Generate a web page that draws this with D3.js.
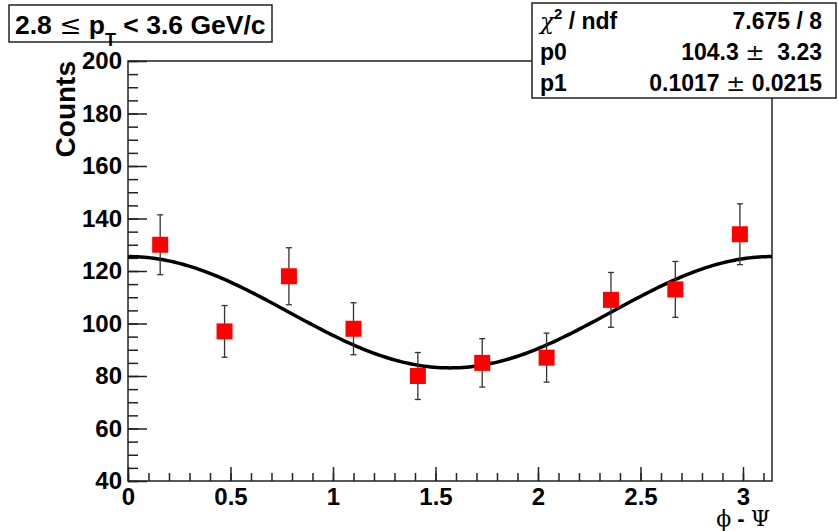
<!DOCTYPE html>
<html>
<head>
<meta charset="utf-8">
<script src="https://cdn.jsdelivr.net/npm/d3@7"></script>
<style>
  body { margin: 0; background: white; }
  text { font-family: "Liberation Sans", Arial, sans-serif; font-weight: bold; }
  .greek { font-family: "DejaVu Serif", "Liberation Serif", serif; font-weight: normal; }
</style>
</head>
<body>
<div id="chart"></div>
<script>
// bin centres of phi - Psi (10 bins over 0..pi) and counts
var binCenters = [0.157, 0.471, 0.785, 1.100, 1.414, 1.728, 2.042, 2.356, 2.670, 2.985];
var counts = [130, 97, 118, 98, 80, 85, 87, 109, 113, 134];
var errors = counts.map(function(c) { return Math.sqrt(c); });

// fit results from the stats box
var fitPars = [104.3, 0.1017];
var statRows = [
  ["χ² / ndf", "7.675 / 8"],
  ["p0", "104.3 ± 3.23"],
  ["p1", "0.1017 ± 0.0215"]
];

var xTicks = [0, 0.5, 1, 1.5, 2, 2.5, 3];
var yTicks = [40, 60, 80, 100, 120, 140, 160, 180, 200];

var W = 838, H = 531;
var mLeft = 128, mRight = 772, mTop = 61, mBottom = 481;

var svg = d3.select("#chart")
  .append("svg")
  .attr("width", W)
  .attr("height", H);

var x = d3.scaleLinear().domain([0, Math.PI]).range([mLeft, mRight]);
var y = d3.scaleLinear().domain([40, 200]).range([mBottom, mTop]);

// frame
svg.append("rect")
  .attr("x", mLeft).attr("y", mTop)
  .attr("width", mRight - mLeft).attr("height", mBottom - mTop)
  .attr("fill", "none").attr("stroke", "#222").attr("stroke-width", 1.5);

// minor ticks
var yMinor = d3.range(40, 200.1, 5);
svg.append("g")
  .attr("transform", "translate(" + mLeft + ",0)")
  .call(d3.axisLeft(y).tickValues(yMinor).tickSize(-10).tickFormat(""))
  .call(function(g) { g.select(".domain").remove(); });

var xMinor = d3.range(0, 3.15, 0.1);
svg.append("g")
  .attr("transform", "translate(0," + mBottom + ")")
  .call(d3.axisBottom(x).tickValues(xMinor).tickSize(-8).tickFormat(""))
  .call(function(g) { g.select(".domain").remove(); });

// major ticks + labels
var yAxis = svg.append("g")
  .attr("transform", "translate(" + mLeft + ",0)")
  .call(d3.axisLeft(y).tickValues(yTicks).tickSize(-19).tickPadding(6));
yAxis.select(".domain").remove();

var xAxis = svg.append("g")
  .attr("transform", "translate(0," + mBottom + ")")
  .call(d3.axisBottom(x).tickValues(xTicks).tickSize(-14).tickPadding(7).tickFormat(d3.format("~g")));
xAxis.select(".domain").remove();

svg.selectAll(".tick line").attr("stroke", "#222").attr("stroke-width", 1.5);
svg.selectAll(".tick text")
  .attr("fill", "black")
  .style("font-size", "24px")
  .style("font-family", "'Liberation Sans', Arial, sans-serif")
  .style("font-weight", "bold");

// axis titles
svg.append("text")
  .attr("transform", "translate(75," + mTop + ") rotate(-90)")
  .attr("text-anchor", "end")
  .style("font-size", "28px")
  .text("Counts");

var xt = svg.append("text")
  .attr("x", 770).attr("y", 526)
  .attr("text-anchor", "end")
  .style("font-size", "22px");
xt.append("tspan").attr("class", "greek").text("ϕ");
xt.append("tspan").text(" - ");
xt.append("tspan").attr("class", "greek").text("Ψ");

// fit curve
var line = d3.line()
  .x(function(d) { return x(d); })
  .y(function(d) { return y(fitPars[0] * (1 + 2 * fitPars[1] * Math.cos(2 * d))); });

svg.append("path")
  .datum(d3.range(0, 201).map(function(i) { return i * Math.PI / 200; }))
  .attr("d", line)
  .attr("fill", "none")
  .attr("stroke", "black")
  .attr("stroke-width", 3.5);

// error bars
var pts = svg.append("g").selectAll("g")
  .data(binCenters.map(function(c, i) { return {x: c, y: counts[i], e: errors[i]}; }))
  .enter().append("g");

pts.append("line")
  .attr("x1", function(d) { return x(d.x); })
  .attr("x2", function(d) { return x(d.x); })
  .attr("y1", function(d) { return y(d.y + d.e); })
  .attr("y2", function(d) { return y(d.y - d.e); })
  .attr("stroke", "#333").attr("stroke-width", 1.3);

[1, -1].forEach(function(s) {
  pts.append("line")
    .attr("x1", function(d) { return x(d.x) - 3; })
    .attr("x2", function(d) { return x(d.x) + 3; })
    .attr("y1", function(d) { return y(d.y + s * d.e); })
    .attr("y2", function(d) { return y(d.y + s * d.e); })
    .attr("stroke", "#333").attr("stroke-width", 1.3);
});

pts.append("rect")
  .attr("x", function(d) { return x(d.x) - 8; })
  .attr("y", function(d) { return y(d.y) - 8; })
  .attr("width", 16).attr("height", 16)
  .attr("fill", "#ff0000");

// title box
svg.append("rect")
  .attr("x", 9).attr("y", 5).attr("width", 263).attr("height", 37)
  .attr("fill", "white").attr("stroke", "#222").attr("stroke-width", 1.5);

var tt = svg.append("text")
  .attr("x", 15).attr("y", 34)
  .style("font-size", "26.5px");
tt.append("tspan").text("2.8 ");
tt.append("tspan").attr("class", "greek").text("≤");
tt.append("tspan").text(" p");
tt.append("tspan").attr("dy", 12).style("font-size", "18px").text("T");
tt.append("tspan").attr("dy", -12).text(" < 3.6 GeV/c");

// stats box
svg.append("rect")
  .attr("x", 532).attr("y", 3).attr("width", 304).attr("height", 95)
  .attr("fill", "white").attr("stroke", "#222").attr("stroke-width", 1.5);

statRows.forEach(function(r, i) {
  var by = 29 + i * 31;
  var lt = svg.append("text").attr("x", 540).attr("y", by).style("font-size", "23px");
  if (i === 0) {
    lt.append("tspan").attr("class", "greek").style("font-style", "italic").text("χ");
    lt.append("tspan").attr("dy", -10).style("font-size", "15px").text("2");
    lt.append("tspan").attr("dy", 10).text(" / ndf");
  } else {
    lt.text(r[0]);
  }
  var rt = svg.append("text").attr("x", 822).attr("y", by)
    .attr("text-anchor", "end").style("font-size", "23px");
  var parts = r[1].split("±");
  if (parts.length === 2) {
    rt.append("tspan").text(parts[0]);
    rt.append("tspan").attr("class", "greek").text("±");
    rt.append("tspan").text(parts[1].length < 6 ? "\u00a0\u00a0" + parts[1].trim() : parts[1]);
  } else {
    rt.text(r[1]);
  }
});
</script>
</body>
</html>
